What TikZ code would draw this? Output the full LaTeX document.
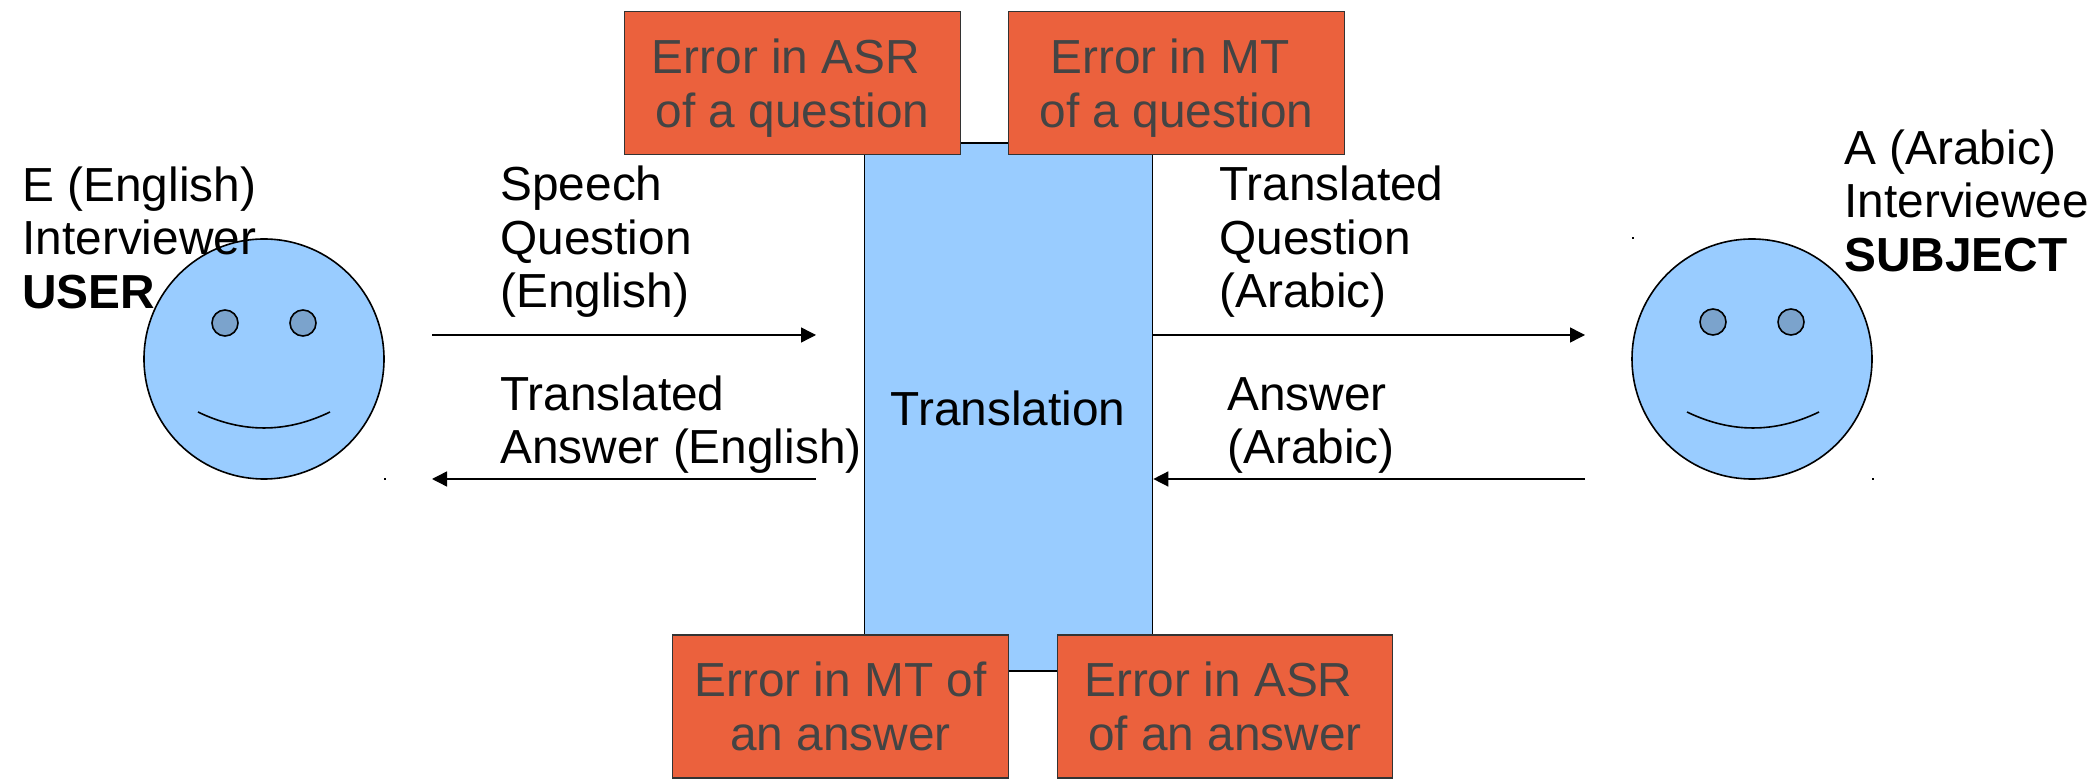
\documentclass[tikz,border=0pt]{standalone}
\usepackage{fontspec}
\setmainfont{Liberation Sans}
\usetikzlibrary{arrows.meta}
\definecolor{faceblue}{HTML}{99CCFF}
\definecolor{eyeblue}{HTML}{7BA3CC}
\definecolor{errfill}{HTML}{EB613D}
\definecolor{errtext}{HTML}{444444}
\definecolor{errline}{HTML}{333333}
\newcommand{\nodepth}[1]{\raisebox{0pt}[\height][0pt]{#1}}
\tikzset{
  x=0.5pt,y=-0.5pt,
  lbl/.style={anchor=north west,inner sep=0pt,align=left,text=black,font=\fontsize{23.9}{26.75}\selectfont},
  errbox/.style={draw=errline,line width=0.6pt,fill=errfill,text=errtext,inner sep=0pt,
    minimum width=167.8pt,minimum height=71.5pt,align=center,font=\fontsize{23.9}{26.75}\selectfont},
  face/.style={circle,draw=black,line width=0.8pt,fill=faceblue,minimum size=120pt,inner sep=0pt},
  eye/.style={circle,draw=black,line width=0.8pt,fill=eyeblue,minimum size=13pt,inner sep=0pt},
  flow/.style={draw=black,line width=0.7pt,-{Triangle[length=7.5pt,width=7.5pt]}},
  smile/.style={draw=black,line width=0.8pt},
  speck/.style={fill=black,inner sep=0pt,minimum size=1pt},
}
\begin{document}
\begin{tikzpicture}
\useasboundingbox (0,0) rectangle (2097,779);
% central box
\node[draw=black,line width=0.8pt,fill=faceblue,minimum width=144pt,minimum height=264pt,inner sep=0pt] (trans) at (1008.5,407) {};
\node[anchor=base,inner sep=0pt,font=\fontsize{23.9}{26.75}\selectfont] (translabel) at (1008,426) {Translation};
% faces
\node[face] (user) at (264,359) {};
\node[eye] (ueyeL) at (225,323) {};
\node[eye] (ueyeR) at (303,323) {};
\coordinate (usmileA) at (198,412);
\coordinate (usmileB) at (330,412);
\draw[smile] (usmileA) .. controls (242,433.3) and (286,433.3) .. (usmileB);
\node[face] (subject) at (1752,359) {};
\node[eye] (seyeL) at (1713,322) {};
\node[eye] (seyeR) at (1791,322) {};
\coordinate (ssmileA) at (1687,412);
\coordinate (ssmileB) at (1819,412);
\draw[smile] (ssmileA) .. controls (1731,433.3) and (1775,433.3) .. (ssmileB);
\node[speck] (s1) at (385,479) {};
\node[speck] (s2) at (1633,238) {};
\node[speck] (s3) at (1873,479) {};
% arrows
\coordinate (a1s) at (432,335);
\coordinate (a1e) at (816,335);
\coordinate (a2s) at (816,479);
\coordinate (a2e) at (432,479);
\coordinate (a3e) at (1585,335);
\coordinate (a4s) at (1585,479);
\draw[flow] (a1s) -- (a1e);
\draw[flow] (a2s) -- (a2e);
\draw[flow] (trans.east |- a3e) -- (a3e);
\draw[flow] (a4s) -- (trans.east |- a4s);
% error boxes
\node[errbox] (e1) at (792.5,83) {\mbox{Error in ASR\ }\\\nodepth{of a question}};
\node[errbox] (e2) at (1176.5,83) {\mbox{Error in MT\ }\\\nodepth{of a question}};
\node[errbox] (e3) at (840.5,706.5) {Error in MT of\\an answer};
\node[errbox] (e4) at (1225,706.5) {\mbox{Error in ASR\ }\\of an answer};
% labels
\node[lbl] (luser) at (22,166) {E (English)\\Interviewer\\\textbf{USER}};
\node[lbl] (lsubj) at (1844,129) {A (Arabic)\\Interviewee\\\textbf{SUBJECT}};
\node[lbl] (l1) at (500,165.5) {Speech\\Question\\(English)};
\node[lbl] (l2) at (1219,165.5) {Translated\\Question\\(Arabic)};
\node[lbl] (l3) at (500,375) {Translated\\Answer (English)};
\node[lbl] (l4) at (1227,377) {Answer\\(Arabic)};
\end{tikzpicture}
\end{document}
